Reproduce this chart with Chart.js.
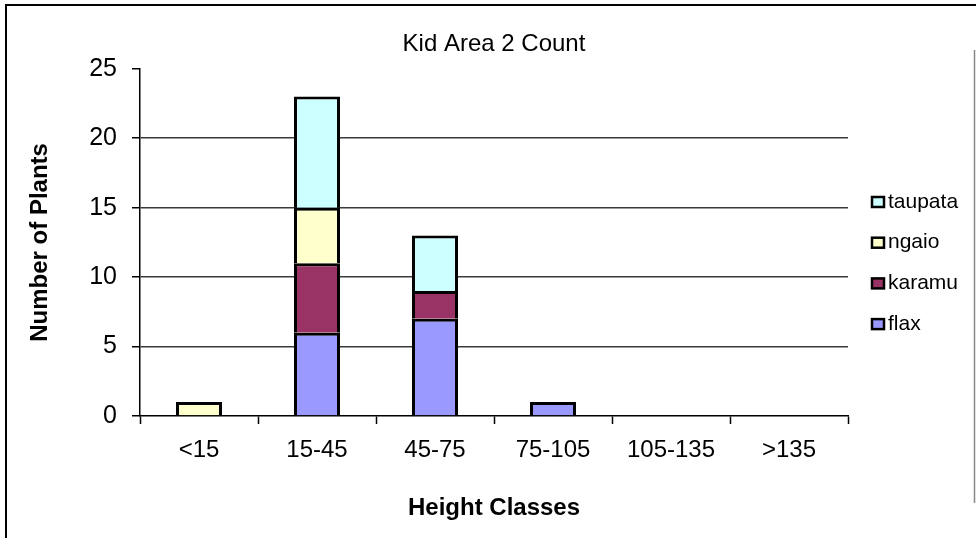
<!DOCTYPE html>
<html>
<head>
<meta charset="utf-8">
<script src="https://cdn.jsdelivr.net/npm/chart.js@4.4.1/dist/chart.umd.min.js"></script>
<style>
  html, body { margin: 0; padding: 0; background: #fff; }
  #wrap { width: 976px; height: 538px; position: relative; }
</style>
</head>
<body>
<div id="wrap"><canvas id="plantChart"></canvas></div>
<script>
// Height classes and plant counts per species
const categories = ["<15", "15-45", "45-75", "75-105", "105-135", ">135"];
const flax = [0, 6, 7, 1, 0, 0];
const karamu = [0, 5, 2, 0, 0, 0];
const ngaio = [1, 4, 0, 0, 0, 0];
const taupata = [0, 8, 4, 0, 0, 0];
const yTicks = [0, 5, 10, 15, 20, 25];

const FONT = "'Liberation Sans', Arial, sans-serif";

// Frame round the chart, plus the legend drawn on the right
const framePlugin = {
  id: "frame",
  beforeDraw(chart) {
    const ctx = chart.ctx;
    ctx.save();
    ctx.fillStyle = "#fff";
    ctx.fillRect(0, 0, chart.width, chart.height);
    ctx.strokeStyle = "#000";
    ctx.lineWidth = 2;
    ctx.beginPath();
    ctx.moveTo(6, chart.height);
    ctx.lineTo(6, 5);
    ctx.lineTo(chart.width, 5);
    ctx.stroke();
    ctx.restore();
  },
  afterDraw(chart) {
    const ctx = chart.ctx;
    ctx.save();
    // legend border (mostly off the right edge)
    ctx.strokeStyle = "#888";
    ctx.lineWidth = 1.5;
    ctx.beginPath();
    ctx.moveTo(974.5, 50);
    ctx.lineTo(974.5, 503);
    ctx.stroke();

    const items = chart.data.datasets.slice().reverse();
    ctx.font = "21px " + FONT;
    ctx.textBaseline = "middle";
    items.forEach((ds, i) => {
      const y = 202 + i * 40.7;
      ctx.fillStyle = ds.backgroundColor;
      ctx.fillRect(872, y - 5, 12, 10);
      ctx.strokeStyle = "#000";
      ctx.lineWidth = 2.5;
      ctx.strokeRect(872, y - 5, 12, 10);
      ctx.fillStyle = "#000";
      ctx.fillText(ds.label, 888, y);
    });
    ctx.restore();
  },
};

function makeSet(label, data, color) {
  return {
    label,
    data,
    backgroundColor: color,
    borderColor: "#000",
    borderWidth: 3,
    inflateAmount: 0,
    barThickness: 46,
  };
}

const ctx = document.getElementById("plantChart").getContext("2d");
new Chart(ctx, {
  type: "bar",
  data: {
    labels: categories,
    datasets: [
      makeSet("flax", flax, "#9999FF"),
      makeSet("karamu", karamu, "#993366"),
      makeSet("ngaio", ngaio, "#FFFFCC"),
      makeSet("taupata", taupata, "#CCFFFF"),
    ],
  },
  options: {
    responsive: true,
    maintainAspectRatio: false,
    animation: false,
    layout: { padding: { left: 0, right: 128, top: 0, bottom: 0 } },
    plugins: {
      legend: { display: false },
      tooltip: { enabled: false },
      title: {
        display: true,
        text: "Kid Area 2 Count",
        fullSize: false,
        color: "#000",
        font: { family: FONT, size: 24, weight: "normal", lineHeight: 1.2 },
        padding: { top: 30, bottom: 10 },
      },
    },
    scales: {
      x: {
        stacked: true,
        afterFit: (s) => { s.height = 122; },
        grid: {
          offset: true,
          drawOnChartArea: false,
          tickLength: 8,
          tickColor: "#000",
          tickWidth: 1.5,
        },
        border: { display: true, color: "#000", width: 1.5 },
        ticks: {
          color: "#000",
          font: { family: FONT, size: 24 },
          padding: 12,
          maxRotation: 0,
        },
        title: {
          display: true,
          text: "Height Classes",
          color: "#000",
          font: { family: FONT, size: 24, weight: "bold" },
          padding: { top: 0, bottom: 15 },
        },
      },
      y: {
        stacked: true,
        min: 0,
        max: 25,
        afterFit: (s) => { s.width = 140; },
        afterBuildTicks: (s) => { s.ticks = yTicks.map((v) => ({ value: v })); },
        grid: {
          color: (c) => (c.tick.value === 0 || c.tick.value === 25 ? "rgba(0,0,0,0)" : "#3a3a3a"),
          lineWidth: 1.5,
          tickLength: 8,
          tickColor: "#000",
          tickWidth: 1.5,
        },
        border: { display: true, color: "#000", width: 1.5 },
        ticks: {
          color: "#000",
          font: { family: FONT, size: 25 },
          padding: 15,
        },
        title: {
          display: true,
          text: "Number of Plants",
          color: "#000",
          font: { family: FONT, size: 24, weight: "bold" },
          padding: { top: 26, bottom: 0 },
        },
      },
    },
  },
  plugins: [framePlugin],
});
</script>
</body>
</html>
